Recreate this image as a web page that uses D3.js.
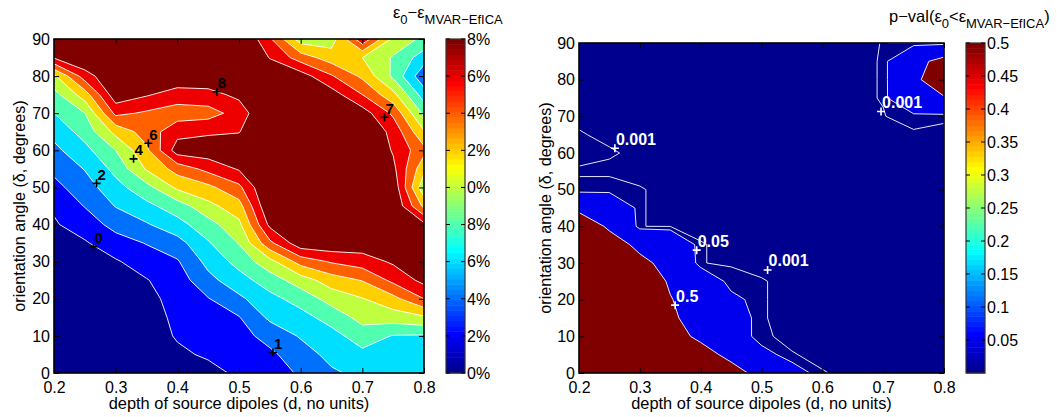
<!DOCTYPE html>
<html>
<head>
<meta charset="utf-8">
<script src="https://cdn.jsdelivr.net/npm/d3@7"></script>
<style>
  body { margin: 0; background: #fff; }
  svg { display: block; font-family: "Liberation Sans", Arial, sans-serif; }
</style>
</head>
<body>
<div id="chart"></div>
<script>
// grid of the simulation: depth of source dipoles (columns) x orientation angle (rows)
const depths = [0.2, 0.25, 0.3, 0.35, 0.4, 0.45, 0.5, 0.55, 0.6, 0.65, 0.7, 0.75, 0.8];
const angles = [0, 5, 10, 15, 20, 25, 30, 35, 40, 45, 50, 55, 60, 65, 70, 75, 80, 85, 90];

// eps_0 - eps_MVAR-EfICA (in %), one row per angle
const errDiff = [
  [0.0, 0.0, 0.1, 0.3, 1.2, 1.3, 2.4, 2.9, 4.3, 5.7, 6.5, 7.0, 7.0],
  [0.1, 0.1, 0.3, 0.6, 1.6, 2.3, 2.8, 3.6, 5.1, 6.6, 7.5, 7.3, 7.2],
  [0.2, 0.3, 0.5, 0.9, 2.2, 2.8, 3.3, 4.7, 6.2, 7.3, 9.0, 7.9, 7.8],
  [0.4, 0.5, 0.7, 1.2, 2.4, 3.3, 3.9, 6.4, 7.3, 8.8, 10.7, 11.0, 11.7],
  [0.6, 0.8, 1.0, 1.5, 2.6, 3.9, 5.6, 7.4, 8.8, 10.8, 11.9, 13.4, 16.0],
  [0.8, 1.1, 1.3, 1.9, 3.0, 5.4, 7.2, 9.0, 11.0, 13.0, 14.1, 16.5, 18.6],
  [1.1, 1.4, 1.8, 2.9, 3.8, 6.6, 8.7, 11.3, 14.8, 16.2, 17.0, 18.3, 19.5],
  [1.4, 1.8, 3.1, 4.1, 5.2, 7.8, 10.1, 15.5, 19.3, 19.5, 19.2, 20.0, 19.5],
  [1.8, 2.9, 4.7, 5.8, 7.3, 9.2, 11.5, 18.5, 20.0, 20.5, 20.0, 20.0, 18.5],
  [2.25, 4.1, 6.1, 7.5, 9.0, 11.4, 13.2, 20.0, 20.5, 21.0, 20.5, 20.0, 13.5],
  [3.4, 5.1, 7.3, 9.3, 12.4, 13.5, 15.5, 20.5, 21.0, 21.0, 21.0, 19.5, 10.5],
  [4.45, 6.1, 8.6, 12.2, 14.8, 16.6, 18.2, 20.5, 21.0, 21.0, 21.0, 18.5, 12.6],
  [5.5, 7.4, 10.0, 13.6, 19.0, 19.2, 19.5, 20.5, 21.0, 21.0, 20.5, 17.8, 14.6],
  [6.6, 8.8, 12.6, 14.9, 17.3, 17.7, 17.9, 20.5, 21.0, 21.0, 20.0, 17.4, 12.2],
  [8.0, 10.0, 16.5, 15.7, 15.0, 15.2, 16.8, 20.5, 21.0, 20.5, 19.0, 15.6, 9.5],
  [9.3, 13.0, 19.3, 18.2, 17.1, 17.3, 18.5, 20.5, 20.5, 19.0, 16.0, 12.6, 7.0],
  [11.6, 17.0, 20.0, 19.5, 19.5, 19.5, 20.0, 19.5, 19.0, 16.2, 13.6, 9.6, 4.5],
  [18.2, 20.0, 20.5, 20.5, 20.5, 20.5, 20.5, 17.9, 15.0, 13.0, 12.0, 9.8, 7.0],
  [20.0, 20.5, 20.5, 20.5, 20.5, 20.5, 20.5, 16.3, 11.0, 11.0, 17.5, 11.5, 9.5]
];

// p-value of eps_0 < eps_MVAR-EfICA, one row per angle
const pVal = [
  [0.9, 0.9, 0.9, 0.9, 0.9, 0.8, 0.25, 0.12, 0.0012, 0.0002, 0.0002, 0.0002, 0.0002],
  [0.9, 0.9, 0.9, 0.9, 0.8, 0.3, 0.1, 0.0012, 0.0002, 0.0002, 0.0002, 0.0002, 0.0002],
  [0.9, 0.9, 0.9, 0.8, 0.35, 0.15, 0.0015, 0.0002, 0.0002, 0.0002, 0.0002, 0.0002, 0.0002],
  [0.9, 0.9, 0.9, 0.6, 0.25, 0.15, 0.0012, 0.0002, 0.0002, 0.0002, 0.0002, 0.0002, 0.0002],
  [0.9, 0.9, 0.9, 0.52, 0.3, 0.09, 0.0012, 0.0002, 0.0002, 0.0002, 0.0002, 0.0002, 0.0002],
  [0.9, 0.9, 0.8, 0.45, 0.2, 0.004, 0.0012, 0.0002, 0.0002, 0.0002, 0.0002, 0.0002, 0.0002],
  [0.9, 0.9, 0.65, 0.3, 0.0012, 0.0002, 0.0002, 0.0002, 0.0002, 0.0002, 0.0002, 0.0002, 0.0002],
  [0.9, 0.8, 0.35, 0.25, 0.0012, 0.0002, 0.0002, 0.0002, 0.0002, 0.0002, 0.0002, 0.0002, 0.0002],
  [0.95, 0.4, 0.0012, 0.0002, 0.0002, 0.0002, 0.0002, 0.0002, 0.0002, 0.0002, 0.0002, 0.0002, 0.0002],
  [0.35, 0.3, 0.0012, 0.0002, 0.0002, 0.0002, 0.0002, 0.0002, 0.0002, 0.0002, 0.0002, 0.0002, 0.0002],
  [0.003, 0.003, 0.0012, 0.0002, 0.0002, 0.0002, 0.0002, 0.0002, 0.0002, 0.0002, 0.0002, 0.0002, 0.0002],
  [0.0002, 0.0002, 0.0002, 0.0002, 0.0002, 0.0002, 0.0002, 0.0002, 0.0002, 0.0002, 0.0002, 0.0002, 0.0002],
  [0.003, 0.0014, 0.0002, 0.0002, 0.0002, 0.0002, 0.0002, 0.0002, 0.0002, 0.0002, 0.0002, 0.0002, 0.0002],
  [0.0013, 0.0002, 0.0002, 0.0002, 0.0002, 0.0002, 0.0002, 0.0002, 0.0002, 0.0002, 0.0002, 0.0002, 0.0002],
  [0.0002, 0.0002, 0.0002, 0.0002, 0.0002, 0.0002, 0.0002, 0.0002, 0.0002, 0.0002, 0.0008, 0.003, 0.0015],
  [0.0002, 0.0002, 0.0002, 0.0002, 0.0002, 0.0002, 0.0002, 0.0002, 0.0002, 0.0002, 0.0012, 0.34, 0.45],
  [0.0002, 0.0002, 0.0002, 0.0002, 0.0002, 0.0002, 0.0002, 0.0002, 0.0002, 0.0002, 0.0012, 0.35, 0.95],
  [0.0002, 0.0002, 0.0002, 0.0002, 0.0002, 0.0002, 0.0002, 0.0002, 0.0002, 0.0002, 0.0012, 0.35, 0.65],
  [0.0002, 0.0002, 0.0002, 0.0002, 0.0002, 0.0002, 0.0002, 0.0002, 0.0002, 0.0002, 0.0011, 0.0005, 0.0005]
];

const errLevels = [2, 4, 6, 8, 10, 12, 14, 16, 18];
const pLevels = [0.001, 0.05, 0.5];

const xTicks = [0.2, 0.3, 0.4, 0.5, 0.6, 0.7, 0.8];
const yTicks = [0, 10, 20, 30, 40, 50, 60, 70, 80, 90];
const errCbTicks = [0, 2, 4, 6, 8, 10, 12, 14, 16, 18];
const errCbLabels = ["0%", "2%", "4%", "6%", "8%", "0%", "2%", "4%", "6%", "8%"];
const pCbTicks = [0.05, 0.1, 0.15, 0.2, 0.25, 0.3, 0.35, 0.4, 0.45, 0.5];
const pCbLabels = ["0.05", "0.1", "0.15", "0.2", "0.25", "0.3", "0.35", "0.4", "0.45", "0.5"];

// contour labels placed by hand in the original figure
const errMarks = [
  { t: "0", d: 0.264, a: 34.0 }, { t: "1", d: 0.555, a: 5.5 }, { t: "2", d: 0.269, a: 51.1 },
  { t: "4", d: 0.329, a: 57.7 }, { t: "6", d: 0.353, a: 61.9 }, { t: "8", d: 0.464, a: 75.8 },
  { t: "7", d: 0.736, a: 68.9 }
];
const pMarks = [
  { t: "0.001", d: 0.259, a: 61.3 }, { t: "0.001", d: 0.6965, a: 71.3 },
  { t: "0.05", d: 0.3935, a: 33.5 }, { t: "0.001", d: 0.510, a: 28.1 },
  { t: "0.5", d: 0.358, a: 18.5 }
];

// matlab jet(64)
function jet64(i) {
  const u = k => (k < 1 || k > 47) ? 0 : (k <= 16 ? k / 16 : (k <= 31 ? 1 : (48 - k) / 16));
  return d3.rgb(255 * u(i - 24), 255 * u(i - 8), 255 * u(i + 8)).formatHex();
}
function cmapIndex(v, lo, hi) {
  return Math.max(1, Math.min(64, Math.floor((v - lo) / (hi - lo) * 64) + 1));
}

const svg = d3.select("#chart").append("svg")
  .attr("width", 1057).attr("height", 417);

function panel(cfg) {
  const x = d3.scaleLinear().domain([0.2, 0.8]).range([cfg.left, cfg.right]);
  const y = d3.scaleLinear().domain([0, 90]).range([cfg.bottom, cfg.top]);
  const g = svg.append("g");

  g.append("clipPath").attr("id", cfg.id + "-clip")
    .append("rect").attr("x", cfg.left).attr("y", cfg.top)
    .attr("width", cfg.right - cfg.left).attr("height", cfg.bottom - cfg.top);

  const plot = g.append("g").attr("clip-path", "url(#" + cfg.id + "-clip)");
  const colorOf = v => jet64(cmapIndex(v, cfg.clim[0], cfg.clim[1]));

  plot.append("rect").attr("x", cfg.left).attr("y", cfg.top)
    .attr("width", cfg.right - cfg.left).attr("height", cfg.bottom - cfg.top)
    .attr("fill", colorOf(cfg.clim[0]));

  const dStep = depths[1] - depths[0], aStep = angles[1] - angles[0];
  const proj = d3.geoTransform({
    point(px, py) {
      this.stream.point(x(depths[0] + (px - 0.5) * dStep), y(angles[0] + (py - 0.5) * aStep));
    }
  });
  const path = d3.geoPath(proj);
  const contours = d3.contours().size([depths.length, angles.length])
    .thresholds(cfg.levels)(cfg.grid.flat());

  plot.selectAll("path.fill").data(contours).enter().append("path")
    .attr("class", "fill")
    .attr("d", path)
    .attr("fill", d => colorOf(d.value))
    .attr("fill-rule", "evenodd");

  plot.selectAll("path.line").data(contours).enter().append("path")
    .attr("class", "line")
    .attr("d", path)
    .attr("fill", "none")
    .attr("stroke", "#fff")
    .attr("stroke-width", 0.9);

  // labels with + markers
  const marks = plot.selectAll("g.mark").data(cfg.marks).enter().append("g")
    .attr("transform", d => "translate(" + x(d.d) + "," + y(d.a) + ")");
  marks.append("path").attr("d", "M-4,0H4M0,-4V4")
    .attr("stroke", cfg.markColor).attr("stroke-width", 1.6);
  marks.append("text").attr("x", 1).attr("y", -3.5)
    .attr("font-size", cfg.markSize).attr("font-weight", "bold")
    .attr("fill", cfg.markColor).text(d => d.t);

  // axes, matlab style inward ticks
  const fmt = d3.format(".1f");
  g.append("g").attr("transform", "translate(0," + cfg.bottom + ")")
    .call(d3.axisBottom(x).tickValues(xTicks).tickFormat(fmt).tickSize(-5).tickPadding(8.5));
  g.append("g").attr("transform", "translate(0," + cfg.top + ")")
    .call(d3.axisTop(x).tickValues(xTicks).tickFormat("").tickSize(-5));
  g.append("g").attr("transform", "translate(" + cfg.left + ",0)")
    .call(d3.axisLeft(y).tickValues(yTicks).tickSize(-5).tickPadding(4));
  g.append("g").attr("transform", "translate(" + cfg.right + ",0)")
    .call(d3.axisRight(y).tickValues(yTicks).tickFormat("").tickSize(-5));
  g.selectAll(".domain").remove();
  g.selectAll(".tick line").attr("stroke", "#000");
  g.selectAll(".tick text").attr("font-size", 16).attr("fill", "#000")
    .attr("font-family", "Liberation Sans, Arial, sans-serif");

  g.append("rect").attr("x", cfg.left).attr("y", cfg.top)
    .attr("width", cfg.right - cfg.left).attr("height", cfg.bottom - cfg.top)
    .attr("fill", "none").attr("stroke", "#000").attr("stroke-width", 1.6);

  g.append("text").attr("x", (cfg.left + cfg.right) / 2).attr("y", 409)
    .attr("text-anchor", "middle").attr("font-size", 16.4)
    .text("depth of source dipoles (d, no units)");
  g.append("text")
    .attr("transform", "translate(" + cfg.ylabX + "," + (cfg.top + cfg.bottom) / 2 + ") rotate(-90)")
    .attr("text-anchor", "middle").attr("font-size", 16.2)
    .text("orientation angle (\u03b4, degrees)");

  // colorbar
  const cb = cfg.cb;
  const cy = d3.scaleLinear().domain(cfg.clim).range([cb.bottom, cb.top]);
  const span = cfg.clim[1] - cfg.clim[0];
  const idx = d3.range(1, 65);
  g.selectAll("rect.cb").data(idx).enter().append("rect")
    .attr("x", cb.left).attr("width", cb.right - cb.left)
    .attr("y", i => cy(cfg.clim[0] + i / 64 * span))
    .attr("height", i => cy(cfg.clim[0] + (i - 1) / 64 * span) - cy(cfg.clim[0] + i / 64 * span) + 0.5)
    .attr("fill", i => jet64(i));
  g.append("rect").attr("x", cb.left).attr("y", cb.top)
    .attr("width", cb.right - cb.left).attr("height", cb.bottom - cb.top)
    .attr("fill", "none").attr("stroke", "#333").attr("stroke-width", 1.2);
  const cbt = g.selectAll("g.cbt").data(cfg.cbTicks).enter().append("g")
    .attr("transform", d => "translate(0," + cy(d) + ")");
  cbt.append("line").attr("x1", cb.right - 4).attr("x2", cb.right).attr("stroke", "#000");
  cbt.append("line").attr("x1", cb.left).attr("x2", cb.left + 4).attr("stroke", "#000");
  cbt.append("text").attr("x", cb.right + 2).attr("dy", "0.36em")
    .attr("font-size", 16).text((d, i) => cfg.cbLabels[i]);

  // colorbar title
  const t = g.append("text").attr("x", cfg.title.x).attr("y", cfg.title.y).attr("font-size", 16.5);
  cfg.title.parts.forEach(p => {
    t.append("tspan").attr("dy", p.dy).attr("font-size", p.sub ? 13 : 16.5).text(p.s);
  });
}

panel({
  id: "left", left: 54, right: 424, top: 39, bottom: 373, ylabX: 25,
  grid: errDiff, levels: errLevels, clim: [0, 18],
  marks: errMarks, markColor: "#000", markSize: 15,
  cb: { left: 446, right: 465, top: 39, bottom: 373 },
  cbTicks: errCbTicks, cbLabels: errCbLabels,
  title: { x: 393, y: 18, parts: [
    { s: "\u03b5", dy: 0 }, { s: "0", dy: 6, sub: true }, { s: "\u2212\u03b5", dy: -6 },
    { s: "MVAR\u2212EfICA", dy: 6, sub: true }
  ] }
});

panel({
  id: "right", left: 579, right: 944, top: 43, bottom: 373, ylabX: 551,
  grid: pVal, levels: pLevels, clim: [0, 0.5],
  marks: pMarks, markColor: "#fff", markSize: 16,
  cb: { left: 966, right: 985, top: 43, bottom: 373 },
  cbTicks: pCbTicks, cbLabels: pCbLabels,
  title: { x: 889, y: 22, parts: [
    { s: "p\u2212val(\u03b5", dy: 0 }, { s: "0", dy: 6, sub: true }, { s: "<\u03b5", dy: -6 },
    { s: "MVAR\u2212EfICA", dy: 6, sub: true }, { s: ")", dy: -6 }
  ] }
});
</script>
</body>
</html>
